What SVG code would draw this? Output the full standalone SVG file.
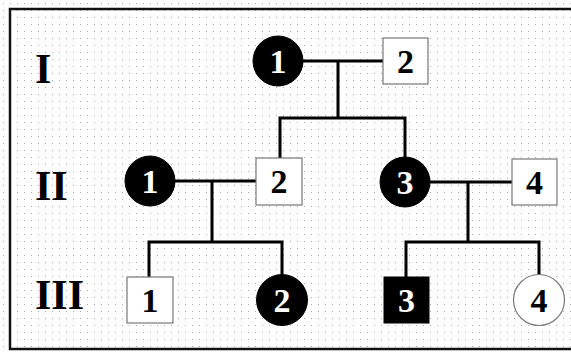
<svg xmlns="http://www.w3.org/2000/svg" width="571" height="352" viewBox="0 0 571 352">
  <defs>
    <pattern id="dots" x="0" y="0" width="7" height="7" patternUnits="userSpaceOnUse">
      <rect x="3" y="3" width="1" height="1" fill="#a8a8a8"/>
    </pattern>
  </defs>
  <style>
    .conn { stroke: #000; stroke-width: 3; fill: none; stroke-linecap: square; }
    .aff { fill: #000; stroke: #000; stroke-width: 1; }
    .unaff { fill: #fff; stroke: #777; stroke-width: 1.2; }
    .num { font-family: "Liberation Serif", "Times New Roman", serif; font-weight: bold; font-size: 34px; text-anchor: middle; }
    .wt { fill: #fff; }
    .bk { fill: #000; }
    .gen { font-family: "Liberation Serif", "Times New Roman", serif; font-weight: bold; font-size: 42px; fill: #000; }
  </style>
  <rect x="0" y="0" width="571" height="352" fill="#fff"/>
  <rect x="0" y="0" width="571" height="352" fill="url(#dots)"/>
  <path d="M 580 9 L 10 9 L 10 349 L 580 349" fill="none" stroke="#111" stroke-width="2.5"/>

  <g id="gen-labels">
    <text class="gen" x="35" y="83">I</text>
    <text class="gen" x="35" y="200">II</text>
    <text class="gen" x="35" y="309">III</text>
  </g>

  <g id="connectors">
    <path class="conn" d="M 303 61 H 383 M 338 61 V 118 M 280 118 H 405 M 280 118 V 158 M 405 118 V 157"/>
    <path class="conn" d="M 175 181 H 256 M 212 181 V 242 M 149 242 H 282 M 149 242 V 277 M 282 242 V 274"/>
    <path class="conn" d="M 430 182 H 512 M 468 182 V 242 M 406 242 H 539 M 406 242 V 277 M 539 242 V 274"/>
  </g>

  <g id="I-1"><circle class="aff" cx="278" cy="61" r="25"/><text class="num wt" x="278" y="73">1</text></g>
  <g id="I-2"><rect class="unaff" x="383" y="38" width="45" height="46"/><text class="num bk" x="405.5" y="73">2</text></g>

  <g id="II-1"><circle class="aff" cx="150" cy="181" r="25"/><text class="num wt" x="150" y="193">1</text></g>
  <g id="II-2"><rect class="unaff" x="256" y="158" width="46" height="47"/><text class="num bk" x="279" y="193">2</text></g>
  <g id="II-3"><circle class="aff" cx="405" cy="182" r="25"/><text class="num wt" x="405" y="194">3</text></g>
  <g id="II-4"><rect class="unaff" x="512" y="159" width="45" height="46"/><text class="num bk" x="534.5" y="194">4</text></g>

  <g id="III-1"><rect class="unaff" x="127" y="277" width="46" height="46"/><text class="num bk" x="150" y="312">1</text></g>
  <g id="III-2"><circle class="aff" cx="282" cy="300" r="25.5"/><text class="num wt" x="282" y="312">2</text></g>
  <g id="III-3"><rect class="aff" x="384" y="277" width="45" height="46"/><text class="num wt" x="406.5" y="312">3</text></g>
  <g id="III-4"><circle class="unaff" cx="539" cy="300" r="25.5"/><text class="num bk" x="539" y="312">4</text></g>
</svg>
